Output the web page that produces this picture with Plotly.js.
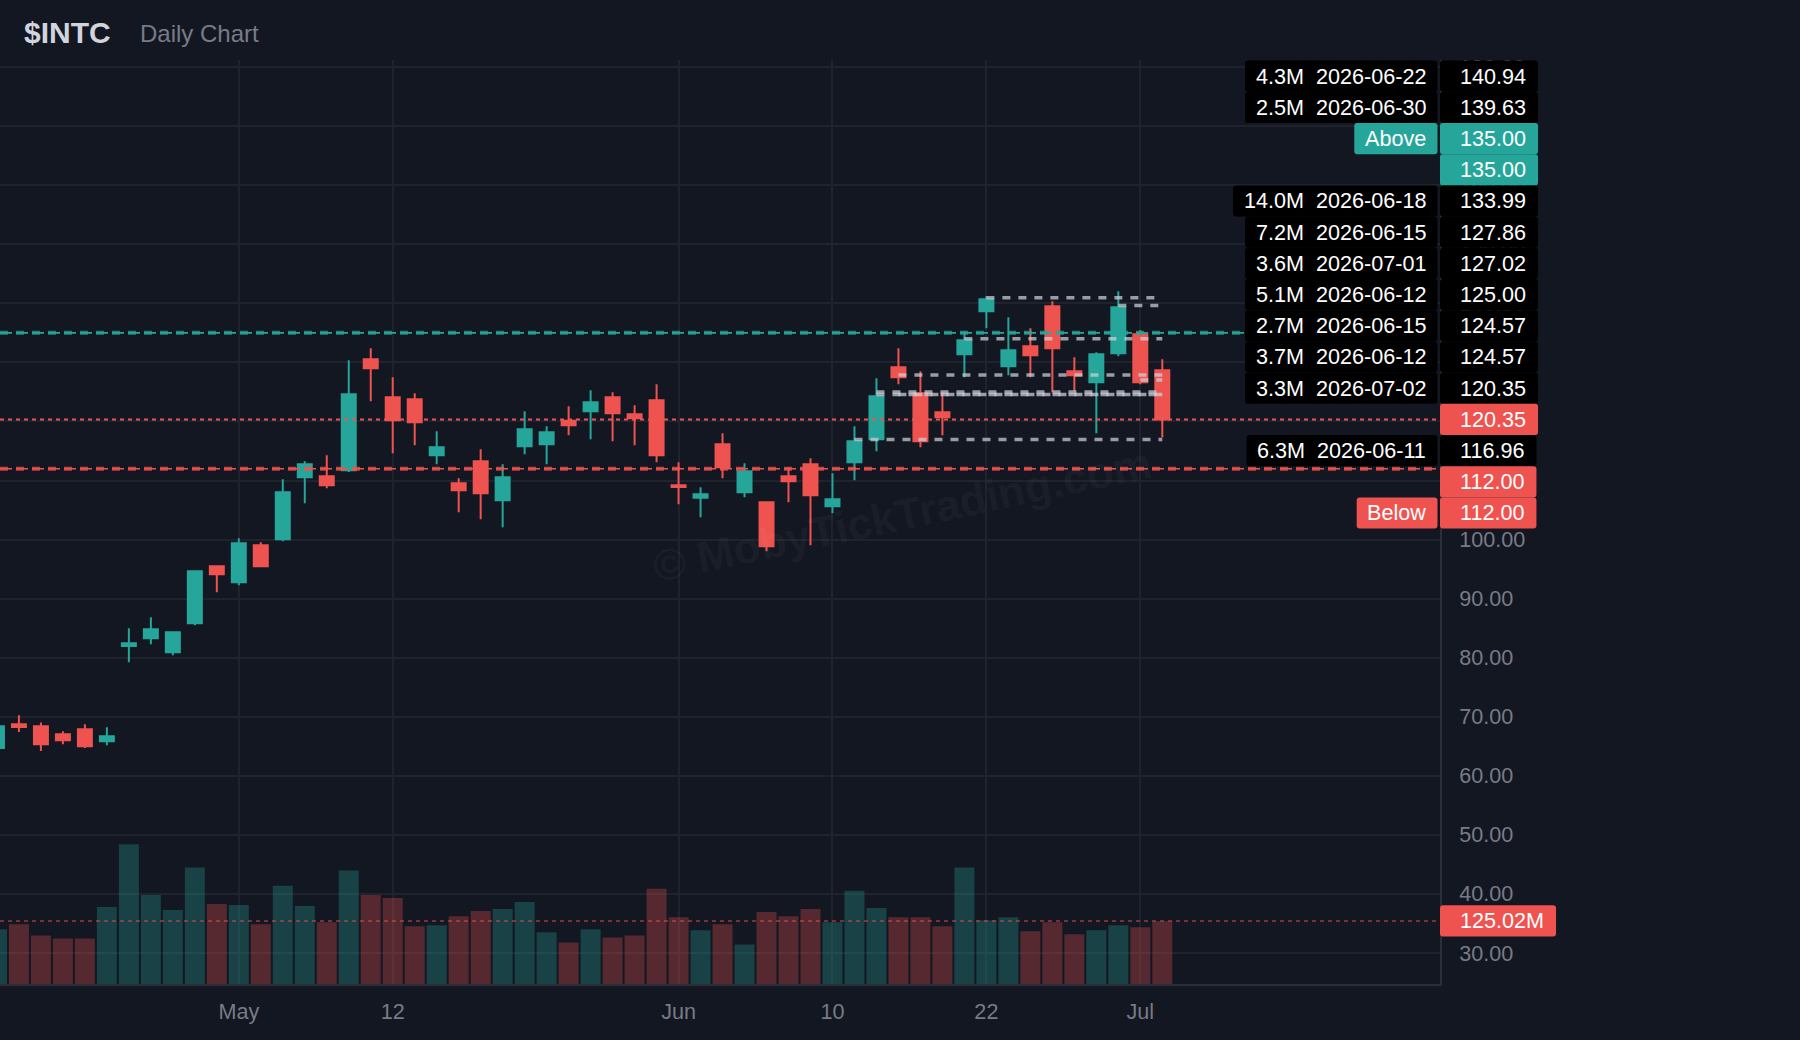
<!DOCTYPE html>
<html>
<head>
<meta charset="utf-8">
<script src="https://cdn.plot.ly/plotly-3.0.1.min.js"></script>
<style>
html,body{margin:0;padding:0;background:#131722;}
#chart{width:1800px;height:1040px;}
</style>
</head>
<body>
<div id="chart"></div>
<script>
// ---------------- DATA ----------------
const symbol = '$INTC';
const subtitle = 'Daily Chart';
const watermark = '\u00a9 MobyTickTrading.com';

const dates = [
 '2026-04-16','2026-04-17','2026-04-20','2026-04-21','2026-04-22','2026-04-23','2026-04-24',
 '2026-04-27','2026-04-28','2026-04-29','2026-04-30','2026-05-01',
 '2026-05-04','2026-05-05','2026-05-06','2026-05-07','2026-05-08',
 '2026-05-11','2026-05-12','2026-05-13','2026-05-14','2026-05-15',
 '2026-05-18','2026-05-19','2026-05-20','2026-05-21','2026-05-22',
 '2026-05-26','2026-05-27','2026-05-28','2026-05-29',
 '2026-06-01','2026-06-02','2026-06-03','2026-06-04','2026-06-05',
 '2026-06-08','2026-06-09','2026-06-10','2026-06-11','2026-06-12',
 '2026-06-15','2026-06-16','2026-06-17','2026-06-18',
 '2026-06-22','2026-06-23','2026-06-24','2026-06-25','2026-06-26',
 '2026-06-29','2026-06-30','2026-07-01','2026-07-02'
];
const open = [64.72,68.73,68.39,67.04,67.88,65.85,81.99,83.29,80.92,85.83,95.49,92.78,
 99.04,100.06,110.56,110.73,111.74,130.54,124.11,123.77,114.28,109.54,113.27,106.66,
 115.81,116.15,120.10,121.74,124.11,121.23,123.60,109.20,107.06,116.15,108.02,106.33,
 110.73,112.76,105.65,113.10,116.99,129.19,124.78,121.57,131.39,138.67,129.36,132.74,
 139.52,128.51,126.65,131.56,134.78,128.68];
const high = [68.60,70.25,69.01,67.54,68.73,68.22,84.99,86.85,84.48,94.81,95.60,100.23,
 99.55,110.22,113.27,114.28,130.37,132.40,127.49,124.78,118.35,110.39,115.30,112.76,
 121.74,119.20,122.58,125.29,124.95,122.75,126.31,113.10,108.87,118.01,112.93,106.40,
 112.25,113.78,111.24,119.20,127.32,132.40,128.51,124.95,135.28,141.21,137.65,135.79,
 140.36,130.88,131.73,142.06,135.45,130.54];
const low = [64.50,67.43,64.21,65.34,64.72,65.17,79.23,82.28,80.41,85.50,91.08,92.27,
 95.32,99.72,106.16,108.70,111.46,123.43,114.62,115.98,112.76,104.63,103.45,102.09,
 114.45,112.76,117.67,116.99,116.66,115.98,113.10,105.99,103.78,110.39,107.17,98.03,
 106.33,99.04,104.46,110.05,114.96,126.31,115.64,117.67,127.49,135.79,127.83,127.49,
 124.95,125.12,118.01,131.05,126.31,117.28];
const close = [68.39,68.28,65.34,66.02,65.00,66.70,82.45,84.82,84.31,94.64,94.13,99.38,
 95.49,108.02,112.76,109.20,124.61,129.02,120.21,119.87,115.64,108.36,107.85,110.56,
 118.69,118.18,119.36,123.26,121.40,120.55,114.28,108.92,107.68,112.25,111.57,98.87,
 109.88,107.51,106.83,116.66,124.27,127.49,116.66,120.72,133.76,140.70,132.07,131.22,
 132.40,127.83,131.39,139.35,126.65,120.35];
// volume in millions
const volume = [108.3,118.3,96.3,90.3,90.3,152.4,276.8,176.5,146.4,230.7,158.4,156.4,
 118.3,194.5,154.4,122.3,224.6,176.5,170.5,114.3,116.3,134.4,144.4,148.4,162.5,102.3,
 82.2,108.3,92.3,96.3,188.5,132.4,106.3,118.3,78.2,142.4,134.4,148.4,122.3,184.5,
 150.4,132.4,132.4,114.3,230.7,126.4,132.4,104.3,122.3,98.3,106.3,116.3,112.3,124.4];
const avgVolume = 125.02;

const levelPrices  = [140.94,139.63,133.99,127.86,127.02,125.00,124.57,124.57,120.35,116.96];
const levelDates   = ['2026-06-22','2026-06-30','2026-06-18','2026-06-15','2026-07-01',
                      '2026-06-12','2026-06-15','2026-06-12','2026-07-02','2026-06-11'];
const levelVolumes = ['4.3M','2.5M','14.0M','7.2M','3.6M','5.1M','2.7M','3.7M','3.3M','6.3M'];

const alertAbove = 135.00;
const alertBelow = 112.00;
const aboveText = 'Above';
const belowText = 'Below';

const tickDates  = ['2026-05-01','2026-05-12','2026-06-01','2026-06-10','2026-06-22','2026-07-01'];
const tickLabels = ['May','12','Jun','10','22','Jul'];

// ---------------- STYLE / GEOMETRY ----------------
const UP = '#26a69a', DOWN = '#ef5350', BG = '#131722';
const GRID = '#1f232e', AXIS = '#2a2e39', MUTED = '#787b86';
const FONT = '"Liberation Sans", Arial, sans-serif';
const FS = 21.6;
const M = {l:0, r:360, t:60, b:56};
const PW = 1800 - M.l - M.r, PH = 1040 - M.t - M.b;
const PRICE_RANGE = [24.75, 181.2];
const VOL_RANGE = [0, 1830];
const X_RANGE = [0.139, 65.63];

const pyPx = p => M.t + (PRICE_RANGE[1] - p) / (PRICE_RANGE[1] - PRICE_RANGE[0]) * PH;
const vyPx = v => M.t + (VOL_RANGE[1] - v) / (VOL_RANGE[1] - VOL_RANGE[0]) * PH;
const px2x = px => (px - M.l) / PW;
const px2y = py => 1 - (py - M.t) / PH;

const cv = document.createElement('canvas').getContext('2d');
function textW(t, size, weight) {
  cv.font = (weight || 'normal') + ' ' + size + 'px "Liberation Sans", Arial, sans-serif';
  return cv.measureText(t).width;
}

function roundRect(xl, xr, yt, yb, color, r) {
  r = r === undefined ? 3 : r;
  const x0 = px2x(xl), x1 = px2x(xr), y0 = px2y(yb), y1 = px2y(yt);
  const rx = r / PW, ry = r / PH;
  const path = `M ${x0+rx},${y0} L ${x1-rx},${y0} Q ${x1},${y0} ${x1},${y0+ry} L ${x1},${y1-ry} Q ${x1},${y1} ${x1-rx},${y1} L ${x0+rx},${y1} Q ${x0},${y1} ${x0},${y1-ry} L ${x0},${y0+ry} Q ${x0},${y0} ${x0+rx},${y0} Z`;
  return {type:'path', xref:'paper', yref:'paper', path, fillcolor:color, line:{width:0}, layer:'above'};
}
function label(text, xPx, yPx, color, anchor) {
  return {xref:'paper', yref:'paper', x:px2x(xPx), y:px2y(yPx), xanchor:anchor || 'right',
    yanchor:'middle', text, showarrow:false, borderpad:0, borderwidth:0,
    font:{family:FONT, size:FS, color:color || '#ffffff'}};
}

const shapes = [];
const annotations = [];

// level lines (gray dashed) from level date to last bar
const lastIdx = dates.length - 1;
levelPrices.forEach((p, k) => {
  shapes.push({type:'line', xref:'x', yref:'y', x0:dates.indexOf(levelDates[k]), x1:lastIdx,
    y0:p, y1:p, line:{color:'rgba(205,208,215,0.72)', width:3.5, dash:'8px,8px'}, layer:'above'});
});
// alert lines
function alertLine(p, col, colA) {
  shapes.push({type:'line', xref:'paper', yref:'y', x0:0, x1:1, y0:p, y1:p,
    line:{color:colA, width:4, dash:'8px,8px'}, layer:'above'});
  shapes.push({type:'line', xref:'paper', yref:'y', x0:0, x1:1, y0:p, y1:p,
    line:{color:col, width:1.6, dash:'12px,4px'}, layer:'above'});
}
alertLine(alertAbove, UP, 'rgba(38,166,154,0.75)');
alertLine(alertBelow, DOWN, 'rgba(239,83,80,0.75)');
// last price line
const lastPrice = close[lastIdx];
shapes.push({type:'line', xref:'paper', yref:'y', x0:0, x1:1, y0:lastPrice, y1:lastPrice,
  line:{color:DOWN, width:2, dash:'4px,4px'}, layer:'above'});
// avg volume line
shapes.push({type:'line', xref:'paper', yref:'y2', x0:0, x1:1, y0:avgVolume, y1:avgVolume,
  line:{color:'rgba(239,83,80,0.45)', width:2, dash:'4px,4px'}, layer:'above'});

// ---- price-scale label stack ----
const entries = [];
levelPrices.forEach((p, k) => entries.push({price:p, rank:0, kind:'level', k}));
entries.push({price:alertAbove, rank:0, kind:'aboveTag'});
entries.push({price:alertAbove, rank:1, kind:'above'});
entries.push({price:lastPrice, rank:1, kind:'last'});
entries.push({price:alertBelow, rank:0, kind:'below'});
entries.push({price:alertBelow, rank:1, kind:'belowTag'});
entries.sort((a, b) => (b.price - a.price) || (a.rank - b.rank));

const STEP = 31.2, BOXH = 31.2;
const anchor = entries.findIndex(e => e.kind === 'last');
entries.forEach(e => e.y = pyPx(e.price));
for (let i = anchor - 1; i >= 0; i--) entries[i].y = Math.min(entries[i].y, entries[i+1].y - STEP);
for (let i = anchor + 1; i < entries.length; i++) entries[i].y = Math.max(entries[i].y, entries[i-1].y + STEP);

const AX = M.l + PW;           // axis x in px
const PRICE_TXT_X = AX + 20;   // price text left
entries.forEach(e => {
  const col = e.kind === 'level' ? '#000000' :
              (e.kind === 'aboveTag' || e.kind === 'above') ? UP : DOWN;
  const ptxt = e.price.toFixed(2);
  const pw = textW(ptxt, FS);
  shapes.push(roundRect(AX, PRICE_TXT_X + pw + 12, e.y - BOXH/2, e.y + BOXH/2, col));
  annotations.push(label(ptxt, PRICE_TXT_X, e.y, '#ffffff', 'left'));
  let left = null;
  if (e.kind === 'level') left = levelVolumes[e.k] + '\u00a0\u00a0' + levelDates[e.k];
  if (e.kind === 'aboveTag') left = aboveText;
  if (e.kind === 'belowTag') left = belowText;
  if (left) {
    const lw = textW(left, FS);
    const xr = AX - 2.5;
    shapes.push(roundRect(xr - lw - 22, xr, e.y - BOXH/2, e.y + BOXH/2, col));
    annotations.push(label(left, xr - 12, e.y, '#ffffff', 'right'));
  }
});
// avg volume label
{
  const t = avgVolume.toFixed(2) + 'M';
  const y = vyPx(avgVolume);
  const w = textW(t, FS);
  shapes.push(roundRect(AX, PRICE_TXT_X + w + 12, y - 15.6, y + 15.6, DOWN));
  annotations.push(label(t, PRICE_TXT_X, y, '#ffffff', 'left'));
}

// title
annotations.push({xref:'paper', yref:'paper', x:px2x(23), y:px2y(33), xanchor:'left', yanchor:'middle',
  text:'<b>' + symbol + '</b>', showarrow:false, borderpad:0,
  font:{family:FONT, size:30, color:'#d1d4dc'}});
annotations.push({xref:'paper', yref:'paper', x:px2x(139), y:px2y(34), xanchor:'left', yanchor:'middle',
  text:subtitle, showarrow:false, borderpad:0,
  font:{family:FONT, size:24, color:MUTED}});
// watermark
annotations.push({xref:'paper', yref:'paper', x:px2x(902), y:px2y(514), xanchor:'center', yanchor:'middle',
  text:'<b>' + watermark + '</b>', showarrow:false, textangle:-12,
  font:{family:FONT, size:44, color:'rgba(255,255,255,0.045)'}});

// ---------------- TRACES ----------------
const candles = {
  type:'candlestick', x:dates, open, high, low, close,
  increasing:{line:{color:UP, width:2}, fillcolor:UP},
  decreasing:{line:{color:DOWN, width:2}, fillcolor:DOWN},
  whiskerwidth:0, hoverinfo:'skip', xaxis:'x', yaxis:'y'
};
const volColors = close.map((c, i) => c >= open[i] ? 'rgba(38,166,154,0.3)' : 'rgba(239,83,80,0.3)');
const vols = {
  type:'bar', x:dates, y:volume, marker:{color:volColors, line:{width:0}},
  hoverinfo:'skip', xaxis:'x', yaxis:'y2'
};

const layout = {
  width:1800, height:1040,
  margin:{l:M.l, r:M.r, t:M.t, b:M.b, pad:0},
  paper_bgcolor:BG, plot_bgcolor:BG,
  font:{family:FONT, size:FS, color:MUTED},
  showlegend:false, hovermode:false, dragmode:false,
  boxgap:0.364, boxgroupgap:0, bargap:0.09,
  xaxis:{type:'category', range:X_RANGE, tickmode:'array', tickvals:tickDates, ticktext:tickLabels,
    showgrid:true, gridcolor:GRID, gridwidth:2, showline:true, linecolor:AXIS, linewidth:2,
    ticks:'', ticklabelstandoff:7, zeroline:false, rangeslider:{visible:false}, fixedrange:true,
    automargin:false, tickfont:{family:FONT, size:FS, color:MUTED}},
  yaxis:{side:'right', range:PRICE_RANGE, tick0:0, dtick:10, tickformat:'.2f',
    showgrid:true, gridcolor:GRID, gridwidth:2, showline:true, linecolor:AXIS, linewidth:2,
    ticks:'', ticklabelstandoff:13, zeroline:false, fixedrange:true, automargin:false,
    tickfont:{family:FONT, size:FS, color:MUTED}},
  yaxis2:{overlaying:'y', side:'right', range:VOL_RANGE, showgrid:false, showticklabels:false,
    zeroline:false, showline:false, fixedrange:true, automargin:false},
  shapes, annotations
};

Plotly.newPlot('chart', [vols, candles], layout, {staticPlot:true, displayModeBar:false});
</script>
</body>
</html>
